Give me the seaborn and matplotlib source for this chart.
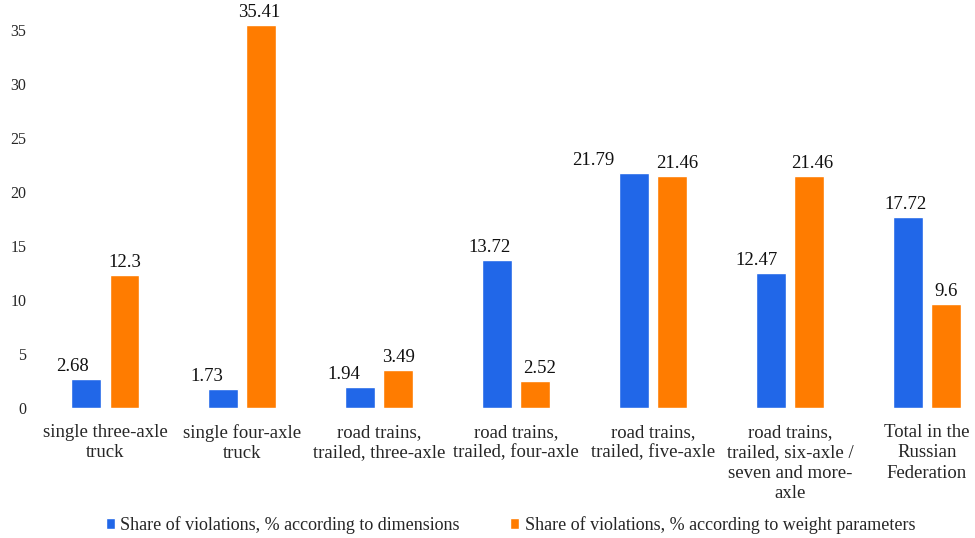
import matplotlib
matplotlib.use("Agg")
import matplotlib.pyplot as plt
import seaborn as sns
import pandas as pd

categories = [
    "single three-axle\ntruck",
    "single four-axle\ntruck",
    "road trains,\ntrailed, three-axle",
    "road trains,\ntrailed, four-axle",
    "road trains,\ntrailed, five-axle",
    "road trains,\ntrailed, six-axle /\nseven and more-\naxle",
    "Total in the\nRussian\nFederation",
]
dimensions = [2.68, 1.73, 1.94, 13.72, 21.79, 12.47, 17.72]
weight = [12.3, 35.41, 3.49, 2.52, 21.46, 21.46, 9.6]
series_names = [
    "Share of violations, % according to dimensions",
    "Share of violations, % according to weight parameters",
]
label_texts_dim = ["2.68", "1.73", "1.94", "13.72", "21.79", "12.47", "17.72"]
label_texts_wt = ["12.3", "35.41", "3.49", "2.52", "21.46", "21.46", "9.6"]
yticks = [0, 5, 10, 15, 20, 25, 30, 35]

# label horizontal offsets (pixels) as seen in the reference
dim_offsets = [-14, -16, -16, -7, -41, -14, -2]
wt_offsets = [0, -2, 0, 4, 5, 3, 0]

df = pd.DataFrame({
    "category": categories * 2,
    "value": dimensions + weight,
    "series": [series_names[0]] * len(categories) + [series_names[1]] * len(categories),
})

sns.set_theme(style="white")
plt.rcParams["font.family"] = "serif"
plt.rcParams["font.serif"] = ["Liberation Serif", "DejaVu Serif"]
FAM = "Liberation Serif"

fig = plt.figure(figsize=(9.75, 5.38), dpi=100)
ax = fig.add_axes([30 / 975, 130 / 538, 942 / 975, 1 - 130 / 538 - 19 / 538])

palette = {series_names[0]: "#2167E8", series_names[1]: "#FF7C00"}
sns.barplot(data=df, x="category", y="value", hue="series", palette=palette,
            width=0.56, gap=0.22, saturation=1, ax=ax, legend=True)

ax.set_ylim(0, 36)
ax.set_xlim(-0.55, 6.33)
ax.set_yticks(yticks)
ax.set_yticklabels([str(t) for t in yticks], fontsize=11.5, family=FAM)
ax.set_xticks(range(len(categories)))
ax.set_xticklabels(categories, fontsize=13.5, family=FAM, linespacing=1.26)
ax.tick_params(axis="y", length=0, pad=2.5)
ax.tick_params(axis="x", length=0, pad=11.5)
ax.set_xlabel("")
ax.set_ylabel("")
for s in ax.spines.values():
    s.set_visible(False)

containers = ax.containers
for cont, texts, offs in [(containers[0], label_texts_dim, dim_offsets),
                          (containers[1], label_texts_wt, wt_offsets)]:
    for bar, t, o in zip(cont, texts, offs):
        x = bar.get_x() + bar.get_width() / 2
        y = bar.get_height()
        ax.annotate(t, (x, y), xytext=(o, 4), textcoords="offset pixels",
                    ha="center", va="bottom", fontsize=13.5, family=FAM,
                    color="#111111")

ax.legend(loc="center", bbox_to_anchor=(0.51, -0.30), ncol=2,
          frameon=False, prop={"family": FAM, "size": 13},
          handlelength=0.5, handleheight=0.6, handletextpad=0.3,
          columnspacing=2.8)

fig.savefig("out.png", dpi=100)
